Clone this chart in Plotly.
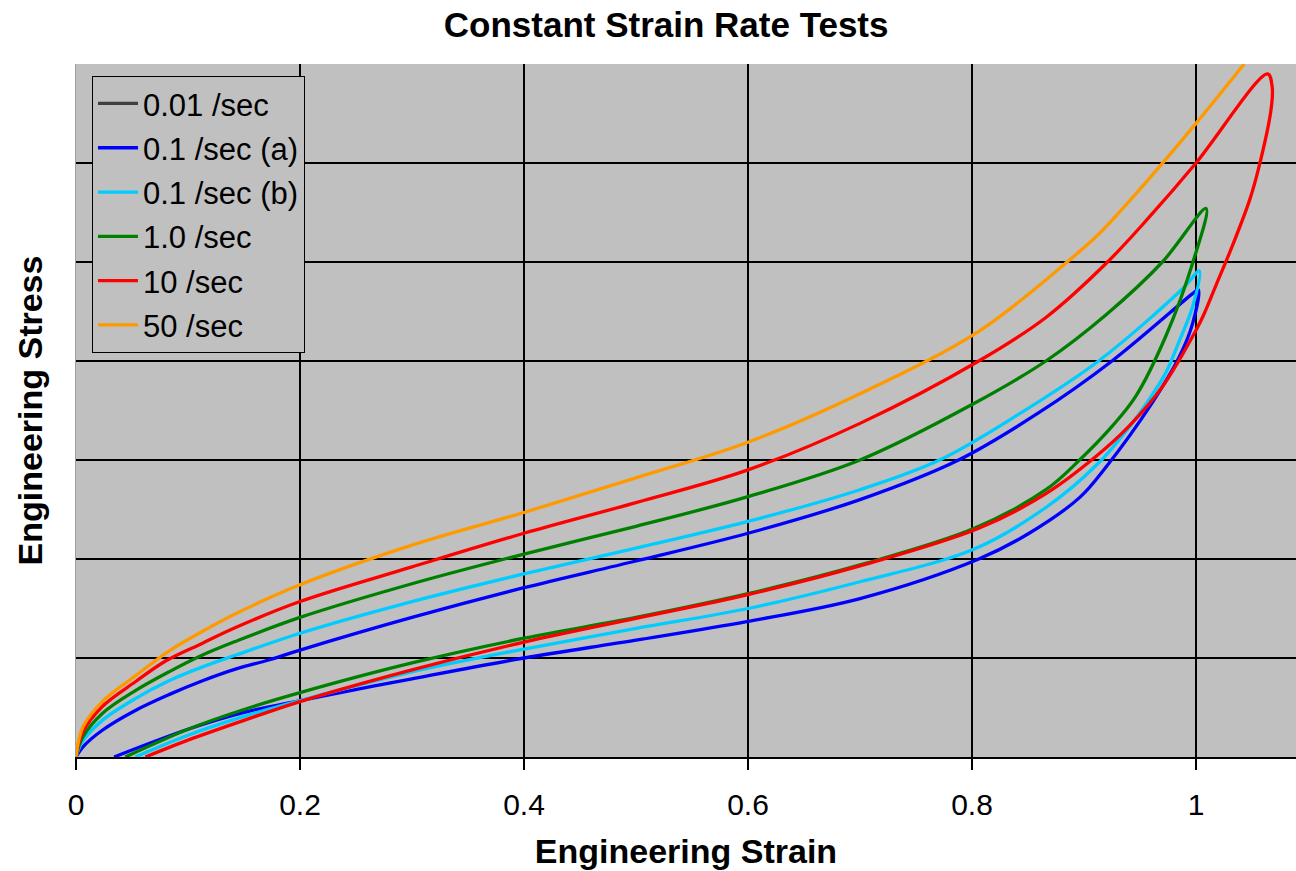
import plotly.graph_objects as go

# ---------------- data ----------------
# 0.1 /sec (a) - blue : loading then unloading
blue_load_x = [0, 0.006, 0.0235, 0.053, 0.083, 0.113, 0.143, 0.172, 0.2, 0.3, 0.4, 0.5, 0.6, 0.7, 0.788, 0.86, 0.925, 0.997, 1.002]
blue_load_y = [0, 0.10, 0.27, 0.47, 0.63, 0.77, 0.89, 0.98, 1.08, 1.41, 1.71, 1.98, 2.26, 2.60, 3.00, 3.48, 4.00, 4.68, 4.72]
blue_unld_x = [0.997, 0.985, 0.961, 0.919, 0.896, 0.851, 0.806, 0.7, 0.6, 0.5, 0.4, 0.3, 0.2, 0.15, 0.1, 0.034]
blue_unld_y = [4.38, 4.04, 3.58, 2.92, 2.62, 2.26, 2.00, 1.60, 1.37, 1.18, 1.00, 0.79, 0.57, 0.45, 0.28, 0]

# 0.1 /sec (b) - cyan
cyan_load_x = [0, 0.006, 0.0235, 0.053, 0.083, 0.113, 0.143, 0.2, 0.3, 0.4, 0.5, 0.6, 0.7, 0.771, 0.84, 0.913, 0.988, 1.003]
cyan_load_y = [0, 0.16, 0.37, 0.59, 0.77, 0.91, 1.03, 1.25, 1.57, 1.85, 2.11, 2.38, 2.70, 3.00, 3.45, 4.00, 4.73, 4.91]
cyan_unld_x = [0.997, 0.985, 0.973, 0.958, 0.943, 0.913, 0.866, 0.802, 0.7, 0.6, 0.5, 0.4, 0.3, 0.2, 0.15, 0.1, 0.053]
cyan_unld_y = [4.55, 4.20, 3.88, 3.61, 3.37, 2.97, 2.52, 2.10, 1.77, 1.50, 1.30, 1.09, 0.86, 0.57, 0.41, 0.22, 0]

# 1.0 /sec - green
green_load_x = [0, 0.006, 0.0235, 0.053, 0.083, 0.113, 0.143, 0.2, 0.3, 0.4, 0.5, 0.6, 0.7, 0.8, 0.866, 0.92, 0.97, 1.009]
green_load_y = [0, 0.20, 0.44, 0.67, 0.86, 1.03, 1.17, 1.41, 1.75, 2.05, 2.33, 2.63, 3.00, 3.56, 4.00, 4.47, 5.00, 5.54]
green_unld_x = [0.997, 0.973, 0.946, 0.925, 0.896, 0.866, 0.802, 0.7, 0.6, 0.5, 0.4, 0.3, 0.2, 0.15, 0.1, 0.044]
green_unld_y = [4.99, 4.25, 3.64, 3.34, 3.00, 2.70, 2.31, 1.94, 1.65, 1.41, 1.20, 0.95, 0.65, 0.48, 0.28, 0]

# 10 /sec - red
red_load_x = [0, 0.006, 0.0235, 0.053, 0.08, 0.113, 0.143, 0.2, 0.3, 0.4, 0.5, 0.6, 0.7, 0.806, 0.866, 0.921, 0.958, 1.0, 1.064]
red_load_y = [0, 0.25, 0.51, 0.76, 0.97, 1.15, 1.31, 1.57, 1.92, 2.26, 2.57, 2.90, 3.37, 4.00, 4.44, 5.00, 5.45, 6.00, 6.90]
red_unld_x = [1.068, 1.067, 1.056, 1.048, 1.032, 1.018, 1.007, 1.0, 0.97, 0.94, 0.91, 0.866, 0.806, 0.7, 0.6, 0.5, 0.4, 0.3, 0.2, 0.15, 0.1, 0.062]
red_unld_y = [6.77, 6.54, 5.95, 5.63, 5.15, 4.77, 4.47, 4.31, 3.74, 3.34, 3.03, 2.66, 2.31, 1.93, 1.64, 1.40, 1.16, 0.88, 0.56, 0.37, 0.17, 0]

# 50 /sec - orange (loading only, leaves the top of the chart)
orange_x = [0, 0.006, 0.0235, 0.053, 0.083, 0.113, 0.143, 0.2, 0.3, 0.4, 0.5, 0.6, 0.7, 0.806, 0.887, 0.913, 0.958, 1.0, 1.043]
orange_y = [0, 0.30, 0.56, 0.82, 1.07, 1.27, 1.45, 1.74, 2.14, 2.47, 2.82, 3.18, 3.67, 4.30, 5.02, 5.28, 5.84, 6.40, 7.00]

series_names = ["0.01 /sec", "0.1 /sec (a)", "0.1 /sec (b)", "1.0 /sec", "10 /sec", "50 /sec"]
series_colors = ["#404040", "#0000ff", "#00ccff", "#008000", "#ff0000", "#ff9900"]

x_tick_vals = [0, 0.2, 0.4, 0.6, 0.8, 1.0]
x_tick_text = ["0", "0.2", "0.4", "0.6", "0.8", "1"]

title_text = "Constant Strain Rate Tests"
x_title = "Engineering Strain"
y_title = "Engineering Stress"

# ---------------- figure ----------------
series_x = [
    [None],
    blue_load_x + blue_unld_x,
    cyan_load_x + cyan_unld_x,
    green_load_x + green_unld_x,
    red_load_x + red_unld_x,
    orange_x,
]
series_y = [
    [None],
    blue_load_y + blue_unld_y,
    cyan_load_y + cyan_unld_y,
    green_load_y + green_unld_y,
    red_load_y + red_unld_y,
    orange_y,
]

FONT = "Arial, 'Liberation Sans', Helvetica, sans-serif"

fig = go.Figure()
for i, (name, color) in enumerate(zip(series_names, series_colors)):
    fig.add_trace(go.Scatter(
        x=series_x[i], y=series_y[i], name=name, mode="lines",
        line=dict(color=color, width=3.3, shape="spline", smoothing=1.0),
        legendgroup=f"g{i}", hoverinfo="x+y+name",
    ))

fig.update_layout(
    width=1296, height=871,
    margin=dict(l=76, r=0, t=64, b=114),
    paper_bgcolor="white",
    plot_bgcolor="#c0c0c0",
    font=dict(family=FONT, color="black"),
    title=dict(text=f"<b>{title_text}</b>", x=0.514, xanchor="center",
               y=1 - 25 / 871, yref="container", yanchor="middle",
               font=dict(size=35, color="black")),
    showlegend=True,
    legend=dict(
        x=0.0131, y=0.983, xanchor="left", yanchor="top",
        bgcolor="#c0c0c0", bordercolor="black", borderwidth=1,
        font=dict(size=31, color="black"),
        traceorder="grouped", tracegroupgap=1, itemwidth=40,
    ),
    xaxis=dict(
        range=[0, 1220 / 1120], tickvals=x_tick_vals, ticktext=x_tick_text,
        showgrid=True, gridcolor="black", gridwidth=1.5,
        ticks="outside", ticklen=11, tickwidth=1.5, tickcolor="black",
        ticklabelstandoff=9,
        showline=True, linecolor="black", linewidth=2,
        tickfont=dict(size=30, color="black"),
        zeroline=False,
        title=dict(text=f"<b>{x_title}</b>", font=dict(size=34, color="black"), standoff=19),
    ),
    yaxis=dict(
        range=[0, 7], dtick=1, showticklabels=False,
        showgrid=True, gridcolor="black", gridwidth=1.5,
        ticks="", zeroline=False,
        showline=True, linecolor="#a0a0a0", linewidth=1,
        title=dict(text=f"<b>{y_title}</b>", font=dict(size=34, color="black"), standoff=22),
    ),
)

fig.write_html("out.html")
